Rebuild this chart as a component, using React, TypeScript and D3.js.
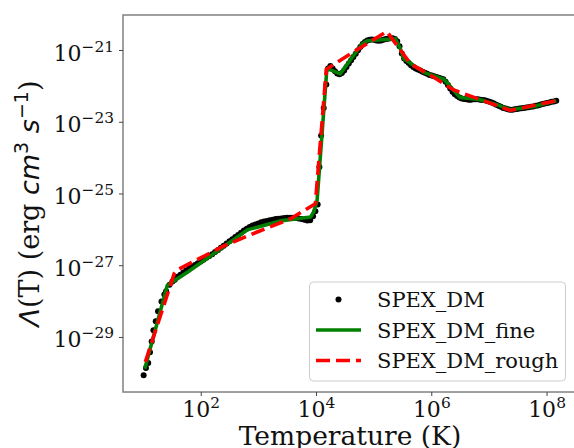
import * as d3 from "d3";

// log10(T [K]) and log10(Lambda [erg cm^3 s^-1])
const dmLogT = [
  1.0, 1.04, 1.08, 1.11, 1.14, 1.17, 1.21, 1.25, 1.31, 1.36, 1.39, 1.45, 1.5, 1.54, 1.59, 1.64, 1.69, 1.74, 1.79, 1.84,
  1.89, 1.94, 1.99, 2.04, 2.09, 2.14, 2.19, 2.24, 2.29, 2.34, 2.39, 2.44, 2.49, 2.54, 2.59, 2.64, 2.69, 2.74, 2.79, 2.84,
  2.89, 2.94, 2.99, 3.04, 3.09, 3.14, 3.19, 3.24, 3.29, 3.34, 3.39, 3.44, 3.49, 3.54, 3.59, 3.64, 3.69, 3.74, 3.79, 3.84,
  3.89, 3.94, 3.98, 4.02, 4.05, 4.08, 4.125, 4.17, 4.2, 4.24, 4.28, 4.32, 4.36, 4.4, 4.44, 4.48, 4.52, 4.56, 4.6, 4.64,
  4.68, 4.72, 4.76, 4.8, 4.84, 4.88, 4.92, 4.96, 5.0, 5.04, 5.08, 5.12, 5.16, 5.2, 5.24, 5.28, 5.32, 5.36, 5.4, 5.44,
  5.48, 5.52, 5.56, 5.6, 5.64, 5.68, 5.72, 5.76, 5.8, 5.84, 5.88, 5.92, 5.96, 6.0, 6.04, 6.08, 6.12, 6.16, 6.2, 6.24,
  6.28, 6.32, 6.36, 6.4, 6.44, 6.48, 6.52, 6.56, 6.6, 6.64, 6.68, 6.72, 6.76, 6.8, 6.84, 6.88, 6.92, 6.96, 7.0, 7.04,
  7.08, 7.12, 7.16, 7.2, 7.24, 7.28, 7.32, 7.36, 7.4, 7.44, 7.48, 7.52, 7.56, 7.6, 7.64, 7.68, 7.72, 7.76, 7.8, 7.84,
  7.88, 7.92, 7.96, 8.0, 8.04, 8.08, 8.12, 8.16,
];
const dmLogL = [
  -30.05, -29.85, -29.71, -29.41, -29.11, -28.8, -28.55, -28.27, -28.0, -27.8, -27.71, -27.53, -27.44, -27.39, -27.31, -27.25, -27.19, -27.13, -27.08, -27.03,
  -26.98, -26.93, -26.88, -26.83, -26.78, -26.73, -26.68, -26.62, -26.56, -26.5, -26.44, -26.38, -26.32, -26.26, -26.2, -26.14, -26.08, -26.02, -25.97, -25.92,
  -25.88, -25.85, -25.82, -25.79, -25.77, -25.75, -25.73, -25.72, -25.7, -25.69, -25.68, -25.67, -25.66, -25.66, -25.66, -25.67, -25.68, -25.7, -25.72, -25.74,
  -25.73, -25.62, -25.48, -25.29, -24.25, -23.37, -22.6, -21.95, -21.5, -21.43, -21.5, -21.58, -21.64, -21.66, -21.63, -21.56, -21.46, -21.36, -21.27, -21.18,
  -21.09, -20.99, -20.9, -20.82, -20.76, -20.72, -20.7, -20.69, -20.7, -20.72, -20.73, -20.72, -20.7, -20.68, -20.67, -20.66, -20.66, -20.68, -20.74, -20.88,
  -21.08, -21.22, -21.29, -21.35, -21.41, -21.46, -21.5, -21.53, -21.56, -21.59, -21.62, -21.65, -21.68, -21.7, -21.72, -21.74, -21.76, -21.78, -21.8, -21.87,
  -21.96, -22.06, -22.15, -22.22, -22.27, -22.31, -22.34, -22.35, -22.36, -22.37, -22.37, -22.36, -22.36, -22.36, -22.37, -22.38, -22.39, -22.41, -22.43, -22.45,
  -22.48, -22.51, -22.54, -22.57, -22.6, -22.62, -22.64, -22.65, -22.65, -22.64, -22.63, -22.62, -22.61, -22.6, -22.59, -22.58, -22.57, -22.56, -22.54, -22.53,
  -22.51, -22.49, -22.48, -22.46, -22.45, -22.43, -22.42, -22.4,
];

const fineLogT = [1.02, 1.41, 1.5, 1.76, 2.22, 2.8, 3.37, 3.9, 3.95, 4.01, 4.18, 4.41, 4.79, 4.88, 5.37, 5.455, 5.51, 5.86, 6.21, 6.49, 6.84, 7.13, 7.36, 7.77, 8.16];
const fineLogL = [-29.87, -27.55, -27.45, -27.18, -26.66, -26.0, -25.75, -25.64, -25.5, -25.18, -21.5, -21.65, -20.82, -20.73, -20.67, -20.95, -21.22, -21.61, -21.8, -22.31, -22.37, -22.51, -22.65, -22.56, -22.4];

const roughLogT = [1.03, 1.53, 1.58, 2.39, 2.97, 3.55, 3.98, 4.17, 4.6, 5.22, 5.63, 6.03, 6.38, 7.36, 8.16];
const roughLogL = [-29.68, -27.22, -27.12, -26.45, -26.06, -25.69, -25.27, -21.52, -21.08, -20.47, -21.37, -21.74, -22.1, -22.67, -22.4];

const xTickExp = [2, 4, 6, 8];
const yTickExp = [-21, -23, -25, -27, -29];
const legendLabels = ["SPEX_DM", "SPEX_DM_fine", "SPEX_DM_rough"];

const W = 574;
const H = 448;
const m = { left: 123, top: 15, right: 577, bottom: 392 };
const serif = "'DejaVu Serif', serif";
const sans = "'DejaVu Sans', sans-serif";

const toPts = (lt: number[], ll: number[]) => lt.map((t, i) => [Math.pow(10, t), Math.pow(10, ll[i])] as [number, number]);

export default function App() {
  const x = d3.scaleLog().domain([Math.pow(10, 0.642), Math.pow(10, 8.52)]).range([m.left, m.right]);
  const y = d3.scaleLog().domain([Math.pow(10, -30.52), Math.pow(10, -20.01)]).range([m.bottom, m.top]);

  const line = d3
    .line<[number, number]>()
    .x((d) => x(d[0]))
    .y((d) => y(d[1]));

  const dm = toPts(dmLogT, dmLogL);
  const fine = toPts(fineLogT, fineLogL);
  const rough = toPts(roughLogT, roughLogL);

  const tickFs = 22;
  const lgX = 309.5;
  const lgY = 282;
  const rows = [299.5, 330, 360.5];

  return (
    <svg width={W} height={H} style={{ position: "absolute", left: 0, top: 0, background: "#fff" }}>
      <defs>
        <clipPath id="plot">
          <rect x={m.left} y={m.top} width={m.right - m.left} height={m.bottom - m.top} />
        </clipPath>
      </defs>

      <g clipPath="url(#plot)">
        {dm.map((d, i) => (
          <circle key={i} cx={x(d[0])} cy={y(d[1])} r={3} fill="#000" />
        ))}
        <path d={line(fine) ?? ""} fill="none" stroke="#008000" strokeWidth={3.6} strokeLinejoin="round" />
        <path d={line(rough) ?? ""} fill="none" stroke="#ff0000" strokeWidth={3.6} strokeDasharray="14 6" />
      </g>

      {/* frame */}
      <rect
        x={m.left}
        y={m.top}
        width={m.right - m.left}
        height={m.bottom - m.top}
        fill="none"
        stroke="#808080"
        strokeWidth={1.5}
      />

      {/* x ticks */}
      {xTickExp.map((e) => {
        const px = x(Math.pow(10, e));
        return (
          <g key={e}>
            <line x1={px} x2={px} y1={m.bottom} y2={m.bottom + 4} stroke="#444" strokeWidth={1} />
            <text x={px} y={m.bottom + 25} textAnchor="middle" fontFamily={serif} fontSize={tickFs} fill="#111">
              10
              <tspan dy={-9} fontSize={tickFs * 0.7}>{e}</tspan>
            </text>
          </g>
        );
      })}

      {/* y ticks */}
      {yTickExp.map((e) => {
        const py = y(Math.pow(10, e));
        return (
          <g key={e}>
            <line x1={m.left - 4} x2={m.left} y1={py} y2={py} stroke="#444" strokeWidth={1} />
            <text x={m.left - 9} y={py + 10} textAnchor="end" fontFamily={serif} fontSize={tickFs} fill="#111">
              10
              <tspan dy={-9} fontSize={tickFs * 0.7}>{"\u2212" + Math.abs(e)}</tspan>
            </text>
          </g>
        );
      })}

      {/* axis labels */}
      <text x={(m.left + m.right) / 2} y={445} textAnchor="middle" fontFamily={serif} fontSize={26.5} fill="#111">
        Temperature (K)
      </text>
      <text
        transform={`translate(39, ${(m.top + m.bottom) / 2}) rotate(-90)`}
        textAnchor="middle"
        fontFamily={serif}
        fontSize={27}
        fill="#111"
      >
        <tspan fontFamily={sans} fontStyle="italic">Λ</tspan>
        <tspan>(T) (erg </tspan>
        <tspan fontFamily={sans} fontStyle="italic">cm</tspan>
        <tspan fontFamily={sans} fontSize={19} dy={-11}>3</tspan>
        <tspan dy={11}> </tspan>
        <tspan fontFamily={sans} fontStyle="italic">s</tspan>
        <tspan fontFamily={sans} fontSize={19} dy={-11}>{"\u22121"}</tspan>
        <tspan dy={11}>)</tspan>
      </text>

      {/* legend */}
      <rect x={lgX} y={lgY} width={256} height={99} rx={4} fill="#fff" fillOpacity={0.8} stroke="#cccccc" strokeWidth={1} />
      <circle cx={338.5} cy={rows[0]} r={3} fill="#000" />
      <line x1={316} x2={361} y1={rows[1]} y2={rows[1]} stroke="#008000" strokeWidth={3.6} />
      <line x1={316} x2={361} y1={rows[2]} y2={rows[2]} stroke="#ff0000" strokeWidth={3.6} strokeDasharray="14 6" />
      {legendLabels.map((lab, i) => (
        <text key={lab} x={377} y={rows[i] + 7.5} fontFamily={serif} fontSize={21} fill="#111">
          {lab}
        </text>
      ))}
    </svg>
  );
}
